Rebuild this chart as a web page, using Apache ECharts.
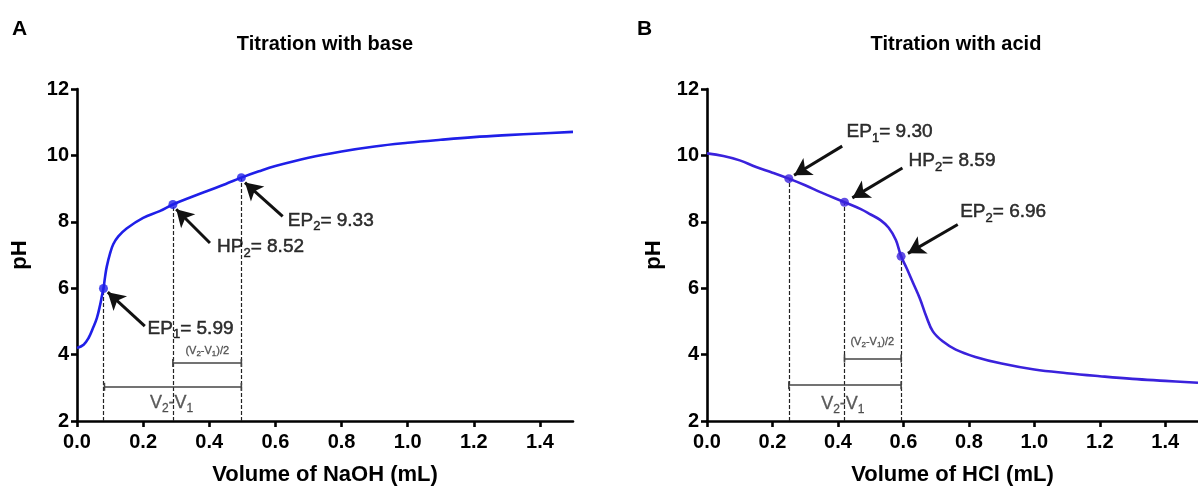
<!DOCTYPE html>
<html><head><meta charset="utf-8">
<script src="https://cdn.jsdelivr.net/npm/echarts@6/dist/echarts.min.js"></script>
<style>html,body{margin:0;padding:0;background:#fff}#c{width:1198px;height:491px}</style>
</head><body><div id="c"></div>
<script>
// ---- data ----
const xTicks = [0, 0.2, 0.4, 0.6, 0.8, 1.0, 1.2, 1.4];
const yTicks = [2, 4, 6, 8, 10, 12];

const baseVolume = [0, 0.02, 0.035, 0.048, 0.06, 0.07, 0.076, 0.08, 0.085, 0.09, 0.1, 0.11, 0.125, 0.15, 0.2, 0.25, 0.29, 0.35, 0.4, 0.45, 0.497, 0.55, 0.6, 0.7, 0.8, 0.9, 1.0, 1.1, 1.2, 1.3, 1.4, 1.5];
const basePH     = [4.2, 4.3, 4.5, 4.79, 5.1, 5.5, 5.8, 5.99, 6.35, 6.65, 7.05, 7.33, 7.56, 7.8, 8.12, 8.32, 8.52, 8.76, 8.95, 9.14, 9.33, 9.52, 9.68, 9.93, 10.12, 10.27, 10.38, 10.47, 10.55, 10.61, 10.66, 10.71];

const acidVolume = [0, 0.05, 0.1, 0.15, 0.2, 0.25, 0.3, 0.35, 0.42, 0.47, 0.5, 0.53, 0.555, 0.577, 0.593, 0.61, 0.63, 0.65, 0.67, 0.69, 0.72, 0.76, 0.82, 0.9, 1.0, 1.1, 1.2, 1.3, 1.4, 1.5];
const acidPH     = [10.06, 9.98, 9.85, 9.65, 9.48, 9.30, 9.1, 8.88, 8.59, 8.38, 8.22, 8.05, 7.82, 7.45, 6.96, 6.6, 6.15, 5.7, 5.15, 4.7, 4.4, 4.15, 3.93, 3.73, 3.55, 3.44, 3.35, 3.27, 3.21, 3.15];

const baseKeyVolume = [0.08, 0.29, 0.497];
const baseKeyPH     = [5.99, 8.52, 9.33];
const acidKeyVolume = [0.25, 0.42, 0.593];
const acidKeyPH     = [9.30, 8.59, 6.96];
const keyNames = ['EP', 'HP', 'EP'];
const keySubs  = ['1', '2', '2'];

// ---- annotation layout (data space) ----
const baseAnnot = [
  {head: [0.093, 5.88], tail: [0.205, 4.86], text: [0.212, 4.78]},
  {head: [0.300, 8.38], tail: [0.402, 7.36], text: [0.422, 7.24]},
  {head: [0.508, 9.18], tail: [0.622, 8.16], text: [0.636, 8.04]}
];
const acidAnnot = [
  {head: [0.266, 9.40], tail: [0.413, 10.28], text: [0.425, 10.70]},
  {head: [0.444, 8.72], tail: [0.597, 9.62], text: [0.614, 9.83]},
  {head: [0.614, 7.05], tail: [0.766, 7.92], text: [0.772, 8.29]}
];
const baseBrackets = {full: [0.083, 0.497, 3.03], half: [0.29, 0.497, 3.75], halfText: [0.394, 4.12], fullText: [0.286, 2.53]};
const acidBrackets = {full: [0.25, 0.593, 3.08], half: [0.42, 0.593, 3.88], halfText: [0.505, 4.38], fullText: [0.415, 2.5]};

const FONT = '"Liberation Sans", Arial, Helvetica, sans-serif';
const CLEAR = 'rgba(0,0,0,0)';
const zip = (a, b) => a.map((v, i) => [v, b[i]]);

function panelSeries(idx, vol, ph, kv, kp, annot, br, color) {
  const ax = {xAxisIndex: idx, yAxisIndex: idx};
  const ink = {textBorderColor: '#000', textBorderWidth: 0.5};
  const grey = {textBorderColor: '#333', textBorderWidth: 0.3};
  return [
    Object.assign({
      type: 'line', data: zip(vol, ph), smooth: 0.4, showSymbol: false,
      lineStyle: {color: color, width: 2.6}, z: 5, silent: true,
      markLine: {
        silent: true, animation: false, label: {show: false}, symbol: ['none', 'arrow'], symbolSize: [15, 17],
        lineStyle: {color: '#111', width: 3, type: 'solid'},
        data: annot.map(a => [{coord: a.tail}, {coord: a.head}])
      }
    }, ax),
    Object.assign({
      type: 'line', data: [], silent: true,
      markLine: {
        silent: true, animation: false, label: {show: false}, symbol: ['none', 'none'],
        lineStyle: {color: '#222', width: 1.2, type: [4, 2]},
        data: kv.map((v, i) => [{coord: [v, 2]}, {coord: [v, kp[i]]}])
      }
    }, ax),
    Object.assign({
      type: 'line', data: [], silent: true,
      markLine: {
        silent: true, animation: false, label: {show: false}, symbol: ['rect', 'rect'], symbolSize: [8, 1.6],
        lineStyle: {color: '#444', width: 1.6, type: 'solid'},
        data: [br.full, br.half].map(b => [{coord: [b[0], b[2]]}, {coord: [b[1], b[2]]}])
      }
    }, ax),
    Object.assign({
      type: 'scatter', data: zip(kv, kp), symbolSize: 9, z: 6, silent: true,
      itemStyle: {color: color}
    }, ax),
    Object.assign({
      type: 'scatter', data: annot.map(a => a.text), symbolSize: 1, z: 7, silent: true,
      itemStyle: {color: CLEAR},
      label: {
        show: true, position: 'right', distance: 0, color: '#000',
        formatter: p => '{n|' + keyNames[p.dataIndex] + '}{s|' + keySubs[p.dataIndex] + '}{n|= ' + (idx === 0 ? baseKeyPH : acidKeyPH)[p.dataIndex].toFixed(2) + '}',
        rich: {
          n: Object.assign({fontFamily: FONT, fontSize: 19, color: '#000', lineHeight: 25}, ink),
          s: Object.assign({fontFamily: FONT, fontSize: 13, color: '#000', lineHeight: 13, verticalAlign: 'bottom'}, ink)
        }
      }
    }, ax),
    Object.assign({
      type: 'scatter', data: [br.halfText, br.fullText], symbolSize: 1, z: 7, silent: true,
      itemStyle: {color: CLEAR},
      label: {
        show: true, position: 'inside', color: '#333',
        formatter: p => p.dataIndex === 0 ? '{m|(V}{ms|2}{m|-V}{ms|1}{m|)/2}' : '{v|V}{vs|2}{v|-V}{vs|1}',
        rich: {
          m: Object.assign({fontFamily: FONT, fontSize: 11, color: '#333', lineHeight: 14}, grey),
          ms: Object.assign({fontFamily: FONT, fontSize: 8, color: '#333', lineHeight: 8, verticalAlign: 'bottom'}, grey),
          v: Object.assign({fontFamily: FONT, fontSize: 18, color: '#333', lineHeight: 22}, grey),
          vs: Object.assign({fontFamily: FONT, fontSize: 12, color: '#333', lineHeight: 11, verticalAlign: 'bottom'}, grey)
        }
      }
    }, ax)
  ];
}

function xAx(idx, name) {
  return {
    type: 'value', gridIndex: idx, min: 0, max: 1.5, interval: 0.2,
    name: name, nameLocation: 'middle', nameGap: 43,
    nameTextStyle: {fontFamily: FONT, fontSize: 22, fontWeight: 'bold', color: '#000'},
    axisLine: {show: true, onZero: false, lineStyle: {color: '#000', width: 2.6}},
    axisTick: {show: true, length: 6, lineStyle: {color: '#000', width: 2.6}, customValues: xTicks},
    axisLabel: {fontFamily: FONT, fontSize: 20, fontWeight: 'bold', color: '#000', margin: 11,
      customValues: xTicks, formatter: v => v.toFixed(1)},
    splitLine: {show: false}
  };
}
function yAx(idx, gap) {
  return {
    type: 'value', gridIndex: idx, min: 2, max: 12, interval: 2,
    name: 'pH', nameLocation: 'middle', nameGap: gap,
    nameTextStyle: {fontFamily: FONT, fontSize: 22, fontWeight: 'bold', color: '#000'},
    axisLine: {show: true, onZero: false, lineStyle: {color: '#000', width: 2.6}},
    axisTick: {show: true, length: 6, lineStyle: {color: '#000', width: 2.6}, customValues: yTicks},
    axisLabel: {fontFamily: FONT, fontSize: 20, fontWeight: 'bold', color: '#000', margin: 8, customValues: yTicks},
    splitLine: {show: false}
  };
}

const chart = echarts.init(document.getElementById('c'), null, {renderer: 'canvas'});
chart.setOption({
  animation: false,
  backgroundColor: '#fff',
  grid: [
    {left: 77, top: 89, width: 496, height: 334, containLabel: false},
    {left: 707, top: 89, width: 496, height: 334, containLabel: false}
  ],
  xAxis: [xAx(0, 'Volume of NaOH (mL)'), xAx(1, 'Volume of HCl (mL)')],
  yAxis: [yAx(0, 46), yAx(1, 42)],
  graphic: [
    {type: 'text', x: 12, y: 29, style: {text: 'A', font: 'bold 21px ' + FONT, fill: '#000', verticalAlign: 'middle'}},
    {type: 'text', x: 325, y: 44, style: {text: 'Titration with base', font: 'bold 20px ' + FONT, fill: '#000', align: 'center', verticalAlign: 'middle'}},
    {type: 'text', x: 637, y: 29, style: {text: 'B', font: 'bold 21px ' + FONT, fill: '#000', verticalAlign: 'middle'}},
    {type: 'text', x: 956, y: 44, style: {text: 'Titration with acid', font: 'bold 20px ' + FONT, fill: '#000', align: 'center', verticalAlign: 'middle'}}
  ],
  series: [].concat(
    panelSeries(0, baseVolume, basePH, baseKeyVolume, baseKeyPH, baseAnnot, baseBrackets, '#1f1fe8'),
    panelSeries(1, acidVolume, acidPH, acidKeyVolume, acidKeyPH, acidAnnot, acidBrackets, '#3a22dc')
  )
});
</script>
</body></html>
